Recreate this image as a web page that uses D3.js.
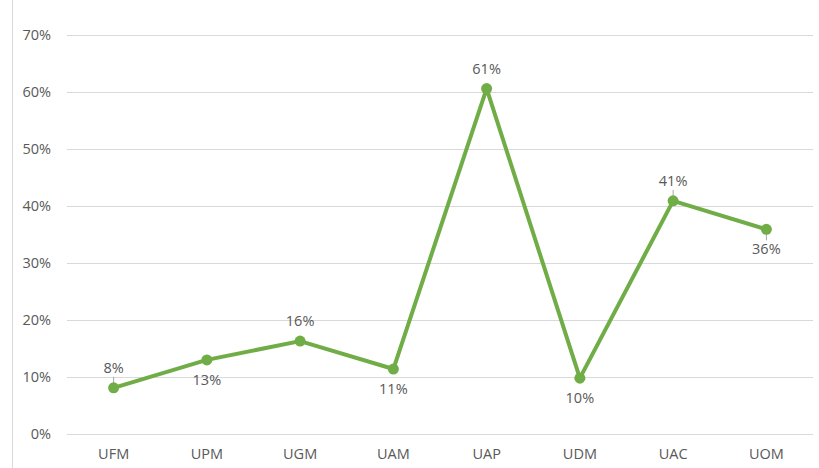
<!DOCTYPE html>
<html>
<head>
<meta charset="utf-8">
<script src="https://cdn.jsdelivr.net/npm/d3@7"></script>
<style>
  html, body { margin: 0; padding: 0; background: #fff; }
  svg { display: block; }
  text { font-family: "Open Sans", "Noto Sans", sans-serif; fill: #595959; }
</style>
</head>
<body>
<script>
// Share per unit
const categories = ["UFM", "UPM", "UGM", "UAM", "UAP", "UDM", "UAC", "UOM"];
const values = [0.081, 0.13, 0.163, 0.114, 0.606, 0.098, 0.409, 0.359];
const yTicks = [0, 0.1, 0.2, 0.3, 0.4, 0.5, 0.6, 0.7];

const width = 819, height = 468;
const margin = { top: 35, right: 6, bottom: 34, left: 67 };
const fontSize = "14.5px";

const svg = d3.select("body").append("svg")
  .attr("width", width).attr("height", height);

// Frame edge on the left
svg.append("line")
  .attr("x1", 12.5).attr("x2", 12.5).attr("y1", 0).attr("y2", height)
  .attr("stroke", "#d9d9d9").attr("stroke-width", 1);

const x = d3.scaleBand()
  .domain(categories)
  .range([margin.left, width - margin.right]);

const y = d3.scaleLinear()
  .domain([0, 0.7])
  .range([height - margin.bottom, margin.top]);

const pct = d3.format(".0%");

// Horizontal gridlines
svg.append("g")
  .selectAll("line")
  .data(yTicks)
  .join("line")
  .attr("x1", margin.left).attr("x2", width - margin.right)
  .attr("y1", d => Math.round(y(d)) + 0.5).attr("y2", d => Math.round(y(d)) + 0.5)
  .attr("stroke", "#d9d9d9").attr("stroke-width", 1);

// Y axis labels
const yAxis = d3.axisLeft(y).tickValues(yTicks).tickFormat(pct).tickSize(0).tickPadding(16);
const gy = svg.append("g").attr("transform", `translate(${margin.left},0)`).call(yAxis);
gy.select(".domain").remove();
gy.selectAll("text").style("font-size", fontSize).attr("fill", "#595959")
  .style("font-family", "'Open Sans', sans-serif");

// X axis labels
const xAxis = d3.axisBottom(x).tickSize(0).tickPadding(15);
const gx = svg.append("g").attr("transform", `translate(0,${height - margin.bottom})`).call(xAxis);
gx.select(".domain").remove();
gx.selectAll("text").style("font-size", fontSize).attr("fill", "#595959")
  .style("font-family", "'Open Sans', sans-serif");

const cx = d => x(d) + x.bandwidth() / 2;
const pts = categories.map((c, i) => ({ c, v: values[i], i }));

// Series line
svg.append("path")
  .datum(pts)
  .attr("fill", "none")
  .attr("stroke", "#70ad47")
  .attr("stroke-width", 4)
  .attr("stroke-linejoin", "round")
  .attr("d", d3.line().x(d => cx(d.c)).y(d => y(d.v)));

// Data labels alternate above / below the markers
const labelOff = d => (d.i % 2 === 0 ? -1 : 1) * 20;

// Short leader ticks for labels that sit further from their marker
const leaders = new Set(["UFM", "UAC", "UOM"]);
svg.append("g")
  .selectAll("line")
  .data(pts.filter(d => leaders.has(d.c)))
  .join("line")
  .attr("x1", d => cx(d.c)).attr("x2", d => cx(d.c))
  .attr("y1", d => y(d.v))
  .attr("y2", d => y(d.v) + labelOff(d) * 0.55)
  .attr("stroke", "#a6a6a6").attr("stroke-width", 1);

// Markers
svg.append("g")
  .selectAll("circle")
  .data(pts)
  .join("circle")
  .attr("cx", d => cx(d.c))
  .attr("cy", d => y(d.v))
  .attr("r", 5.5)
  .attr("fill", "#70ad47");

svg.append("g")
  .selectAll("text")
  .data(pts)
  .join("text")
  .attr("x", d => cx(d.c))
  .attr("y", d => y(d.v) + labelOff(d))
  .attr("dy", "0.35em")
  .attr("text-anchor", "middle")
  .style("font-size", fontSize)
  .text(d => pct(d.v));
</script>
</body>
</html>
